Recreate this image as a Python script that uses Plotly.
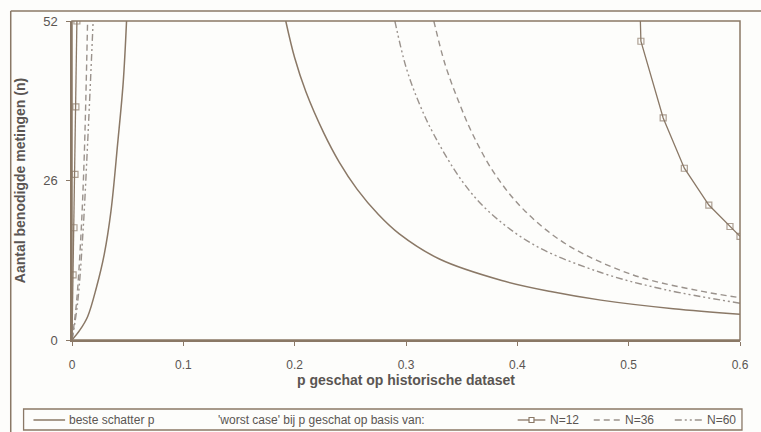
import plotly.graph_objects as go

# ---------------- data ----------------
# best estimate p: left branch and right branch
best_left_p = [0.0, 0.007, 0.014, 0.022, 0.029, 0.035, 0.041, 0.046, 0.049]
best_left_n = [0.0, 1.6, 3.8, 8.6, 14.0, 21.0, 32.0, 42.0, 52.0]
best_right_p = [0.192, 0.2, 0.21, 0.226, 0.24, 0.256, 0.275, 0.294, 0.33, 0.386, 0.43, 0.475, 0.54, 0.6]
best_right_n = [52.0, 46.0, 40.5, 33.8, 29.0, 24.6, 20.5, 17.3, 13.2, 9.7, 7.9, 6.5, 5.1, 4.2]

# worst case N=12
n12_left_p = [0.0, 0.001, 0.0018, 0.0027, 0.0035, 0.0044]
n12_left_n = [0.0, 10.6, 18.3, 27.0, 38.0, 52.0]
n12_right_p = [0.5105, 0.511, 0.531, 0.550, 0.572, 0.591, 0.600]
n12_right_n = [52.0, 48.7, 36.2, 28.0, 22.0, 18.5, 16.9]
n12_right_mark = [0, 6, 6, 6, 6, 6, 6]
n12_left_mark = [0, 6, 6, 6, 6, 6]

# worst case N=36
n36_left_p = [0.0, 0.004, 0.008, 0.011, 0.014]
n36_left_n = [0.0, 6.0, 17.0, 30.0, 52.0]
n36_right_p = [0.325, 0.335, 0.347, 0.36, 0.38, 0.407, 0.445, 0.504, 0.564, 0.6]
n36_right_n = [52.0, 45.0, 39.0, 33.5, 27.0, 21.0, 15.5, 10.6, 8.0, 6.9]

# worst case N=60
n60_left_p = [0.0, 0.005, 0.010, 0.014, 0.019]
n60_left_n = [0.0, 6.0, 18.0, 32.0, 52.0]
n60_right_p = [0.29, 0.30, 0.312, 0.325, 0.35, 0.374, 0.415, 0.475, 0.533, 0.6]
n60_right_n = [52.0, 44.5, 38.5, 33.5, 26.0, 21.0, 15.5, 11.0, 8.2, 6.0]

x_ticks = [0, 0.1, 0.2, 0.3, 0.4, 0.5, 0.6]
x_tick_text = ["0", "0.1", "0.2", "0.3", "0.4", "0.5", "0.6"]
y_ticks = [0, 26, 52]
y_tick_text = ["0", "26", "52"]

legend_labels = ["beste schatter p", "'worst case' bij p geschat op basis van:",
                 "N=12", "N=36", "N=60"]

# ---------------- styling ----------------
BROWN = "#8a7866"
GREY = "#9a928c"
TEXT = "#5a5552"
FONT = "Liberation Sans, Arial, sans-serif"
DASH36 = "6px,4px"
DASH60 = "7px,3px,2px,3px,2px,3px"

W, H = 761, 432
L, R, T, B = 72, 13, 21, 92
PW, PH = W - L - R, H - T - B


def px(x):
    return (x - L) / PW


def py(y):
    return (H - B - y) / PH


fig = go.Figure()

for xs, ys in [(best_left_p, best_left_n), (best_right_p, best_right_n)]:
    fig.add_trace(go.Scatter(x=xs, y=ys, mode="lines", line=dict(color=BROWN, width=1.5),
                             line_shape="spline", showlegend=False, hoverinfo="skip"))

for xs, ys, ms in [(n12_left_p, n12_left_n, n12_left_mark), (n12_right_p, n12_right_n, n12_right_mark)]:
    fig.add_trace(go.Scatter(x=xs, y=ys, mode="lines+markers",
                             line=dict(color=BROWN, width=1.3),
                             marker=dict(symbol="square-open", size=ms, color=BROWN,
                                         line=dict(width=1.2, color=BROWN)),
                             showlegend=False, hoverinfo="skip"))

for xs, ys in [(n36_left_p, n36_left_n), (n36_right_p, n36_right_n)]:
    fig.add_trace(go.Scatter(x=xs, y=ys, mode="lines", line=dict(color=GREY, width=1.4, dash=DASH36),
                             line_shape="spline", showlegend=False, hoverinfo="skip"))

for xs, ys in [(n60_left_p, n60_left_n), (n60_right_p, n60_right_n)]:
    fig.add_trace(go.Scatter(x=xs, y=ys, mode="lines",
                             line=dict(color=GREY, width=1.4, dash=DASH60),
                             line_shape="spline", showlegend=False, hoverinfo="skip"))

shapes = []
# plot area border
shapes.append(dict(type="rect", xref="paper", yref="paper", x0=0, y0=0, x1=1, y1=1,
                   line=dict(color=BROWN, width=1.5)))
# outer chart frame (left & top visible, rest off-image)
shapes.append(dict(type="line", xref="paper", yref="paper", x0=px(10), y0=py(11), x1=px(770), y1=py(11),
                   line=dict(color=BROWN, width=1.5)))
shapes.append(dict(type="line", xref="paper", yref="paper", x0=px(10), y0=py(11), x1=px(10), y1=py(440),
                   line=dict(color=BROWN, width=1.5)))
# legend box
shapes.append(dict(type="rect", xref="paper", yref="paper", x0=px(23), y0=py(430), x1=px(750), y1=py(409),
                   line=dict(color=BROWN, width=1.3)))
ly = py(420)
# legend samples
shapes.append(dict(type="line", xref="paper", yref="paper", x0=px(33), x1=px(65), y0=ly, y1=ly,
                   line=dict(color=BROWN, width=1.5)))
shapes.append(dict(type="line", xref="paper", yref="paper", x0=px(523), x1=px(551), y0=ly, y1=ly,
                   line=dict(color=BROWN, width=1.3)))
shapes.append(dict(type="rect", xref="paper", yref="paper", x0=px(534.5), x1=px(539.5), y0=py(422.5), y1=py(417.5),
                   line=dict(color=BROWN, width=1.2), fillcolor="white"))
shapes.append(dict(type="line", xref="paper", yref="paper", x0=px(600), x1=px(627), y0=ly, y1=ly,
                   line=dict(color=GREY, width=1.4, dash=DASH36)))
shapes.append(dict(type="line", xref="paper", yref="paper", x0=px(682), x1=px(710), y0=ly, y1=ly,
                   line=dict(color=GREY, width=1.4, dash=DASH60)))

annotations = []
legend_x = [67, 218, 554, 630, 713]
for lab, xpos in zip(legend_labels, legend_x):
    annotations.append(dict(text=lab, x=px(xpos), y=ly, xref="paper", yref="paper",
                            xanchor="left", yanchor="middle", showarrow=False,
                            font=dict(family=FONT, size=12, color=TEXT)))

fig.update_layout(
    width=W, height=H,
    margin=dict(l=L, r=R, t=T, b=B, pad=0),
    paper_bgcolor="#fdfdfb", plot_bgcolor="#fdfdfb",
    font=dict(family=FONT, color=TEXT, size=12),
    shapes=shapes, annotations=annotations,
    showlegend=False,
)
fig.update_xaxes(range=[0, 0.6], tickvals=x_ticks, ticktext=x_tick_text,
                 showgrid=False, zeroline=False, showline=True, linecolor=BROWN, linewidth=1.5,
                 ticks="outside", ticklen=4, tickcolor=BROWN, ticklabelstandoff=9,
                 tickfont=dict(size=12, color=TEXT),
                 title=dict(text="<b>p geschat op historische dataset</b>", standoff=2,
                            font=dict(size=14, color=TEXT)))
fig.update_yaxes(range=[0, 52], tickvals=y_ticks, ticktext=y_tick_text,
                 showgrid=False, zeroline=False, showline=True, linecolor=BROWN, linewidth=1.5,
                 ticks="outside", ticklen=4, tickcolor=BROWN, ticklabelstandoff=6,
                 tickfont=dict(size=13, color=TEXT),
                 title=dict(text="<b>Aantal benodigde metingen (n)</b>", standoff=14,
                            font=dict(size=14, color=TEXT)))

fig.write_html("out.html")
